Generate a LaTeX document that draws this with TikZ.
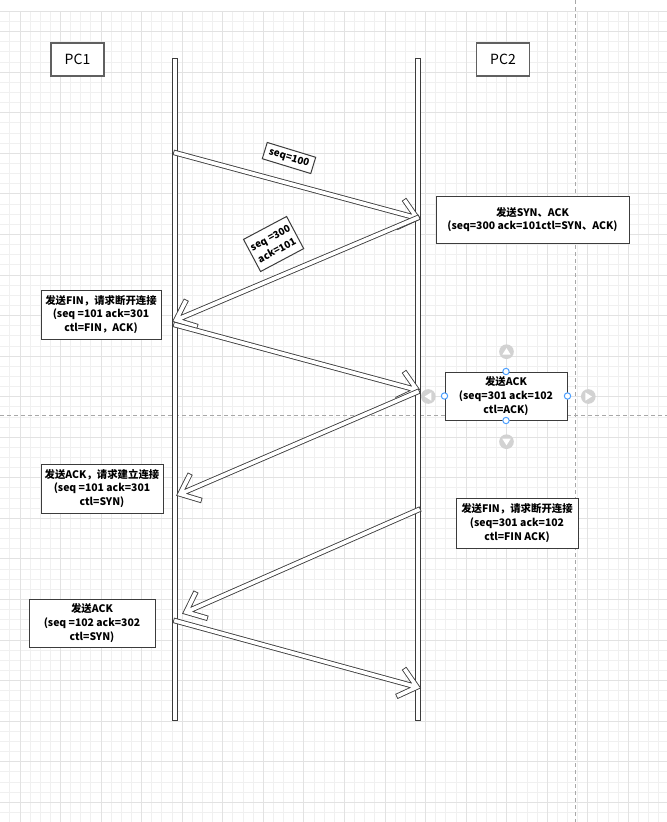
\documentclass[tikz,border=0pt]{standalone}
\usepackage{fontspec}
\setmainfont{Noto Sans CJK SC}
\usetikzlibrary{calc,positioning}
\definecolor{gridminor}{HTML}{F0F0F0}
\definecolor{gridmajor}{HTML}{E2E2E2}
\definecolor{edge}{HTML}{3C3C3C}
\definecolor{pcedge}{HTML}{606060}
\definecolor{breakline}{HTML}{A8A8A8}
\definecolor{handleblue}{HTML}{4DA0FF}
\definecolor{nudgegray}{HTML}{D2D2D2}

\begin{document}
\begin{tikzpicture}[x=0.75pt,y=-0.75pt]
		\tikzstyle{Minor}	= [line width=0.75pt, draw=gridminor]
		\tikzstyle{Major}	= [line width=0.75pt, draw=gridmajor]
		\tikzstyle{PageBreak}	= [line width=0.75pt, draw=breakline, dash pattern=on 3pt off 2.25pt]
		\tikzstyle{Lifeline}	= [line width=0.75pt, draw=edge, fill=white]
		\tikzstyle{PCBox}	= [draw=pcedge, line width=0.9pt, fill=white, minimum width=39.75pt, minimum height=24.75pt, inner sep=0pt, font=\fontsize{10.5pt}{12pt}\selectfont]
		\tikzstyle{MsgBox}	= [draw=edge, line width=0.75pt, fill=white, inner sep=0pt, align=center, font=\bfseries\fontsize{7.8pt}{10.2pt}\selectfont]
		\tikzstyle{SeqTag}	= [draw=edge, line width=0.75pt, fill=white, inner sep=0pt, align=center, font=\bfseries\fontsize{7.4pt}{10.6pt}\selectfont]
		\tikzstyle{Msg}		= [draw=edge, line width=0.65pt, double=white, double distance=2.8pt, line cap=rect, line join=miter]
		\tikzstyle{Handle}	= [draw=handleblue, line width=0.75pt, fill=white]
		\tikzstyle{Nudge}	= [circle, fill=nudgegray, minimum size=11pt, inner sep=0pt]

		\useasboundingbox (0,0) rectangle (667,822);
		\fill [white] (0,0) rectangle (667,822);

		% grid of the editor page
		\foreach \i in {0,...,66}
			\draw [Minor] ({-0.28+10.14*\i},11.4) -- ({-0.28+10.14*\i},822);
		\foreach \j in {0,...,80}
			\draw [Minor] (0,{11.4+10.14*\j}) -- (667,{11.4+10.14*\j});
		\foreach \i in {0,...,16}
			\draw [Major] ({20+40.56*\i},11.4) -- ({20+40.56*\i},822);
		\foreach \j in {0,...,19}
			\draw [Major] (0,{31.7+40.56*\j}) -- (667,{31.7+40.56*\j});
		\draw [Major] (0,11.4) -- (667,11.4);
		\draw [PageBreak] (575.5,0) -- (575.5,822);
		\draw [PageBreak] (0,415.5) -- (667,415.5);

		% hosts and lifelines
		\node (pc1) at (77.5,59.5) [PCBox] {PC1};
		\node (pc2) at (503,59.5) [PCBox] {PC2};
		\draw [Lifeline] (172.5,58.5) rectangle (177.5,720);
		\draw [Lifeline] (415.5,58.5) rectangle (420.5,720);

		% message end points
		\coordinate (m1s) at (176,153);
		\coordinate (m1e) at (417,218);
		\coordinate (m2s) at (417,218);
		\coordinate (m2e) at (176,320);
		\coordinate (m3s) at (176,325);
		\coordinate (m3e) at (417,390);
		\coordinate (m4s) at (417,392);
		\coordinate (m4e) at (180,494);
		\coordinate (m5s) at (418,510);
		\coordinate (m5e) at (186,612);
		\coordinate (m6s) at (176,621);
		\coordinate (m6e) at (417,687);

		\foreach \a/\b in {m1s/m1e, m2s/m2e, m3s/m3e, m4s/m4e, m5s/m5e, m6s/m6e}
			\draw [Msg] ($(\b)!2pt!(\a)$) -- (\a)
				($(\b)!15pt!40:(\a)$) -- (\b) -- ($(\b)!15pt!-40:(\a)$);

		% tags on the first two messages
		\node (t1) at (289,158) [SeqTag, rotate=-17, minimum width=38pt, minimum height=12.75pt] {seq=100};
		\node (t2) at (273.6,244) [SeqTag, rotate=28, minimum width=36.6pt, minimum height=27.3pt] {seq =300\\ack=101};

		% notes
		\node (b1) at (532.5,219.7) [MsgBox, minimum width=144.75pt, minimum height=35.25pt] {发送SYN、ACK\\(seq=300 ack=101ctl=SYN、ACK)};
		\node (b2) at (101,314.5) [MsgBox, minimum width=90pt, minimum height=36.75pt] {发送FIN，请求断开连接\\(seq =101 ack=301\\ctl=FIN，ACK)};
		\node (b3) at (506,396) [MsgBox, minimum width=91.5pt, minimum height=36pt] {发送ACK\\(seq=301 ack=102\\ctl=ACK)};
		\node (b4) at (102,488.5) [MsgBox, minimum width=91.5pt, minimum height=36.75pt] {发送ACK，请求建立连接\\(seq =101 ack=301\\ctl=SYN)};
		\node (b5) at (517,523) [MsgBox, minimum width=91.5pt, minimum height=37.5pt] {发送FIN，请求断开连接\\(seq=301 ack=102\\ctl=FIN ACK)};
		\node (b6) at (92,623) [MsgBox, minimum width=94.5pt, minimum height=36pt] {发送ACK\\(seq =102 ack=302\\ctl=SYN)};

		% selection handles on the chosen note
		\foreach \p in {b3.north, b3.south, b3.east, b3.west}
			\draw [Handle] (\p) circle (2.4pt);
		\node (nu) at (506.5,351.7) [Nudge] {};
		\node (nd) at (506.5,441.7) [Nudge] {};
		\node (nl) at (428.3,396.5) [Nudge] {};
		\node (nr) at (588.3,396.5) [Nudge] {};
		\fill [white] (nu) ++(0,-3.6) -- ++(4.2,6.6) -- ++(-8.4,0) -- cycle;
		\fill [white] (nd) ++(0,3.6) -- ++(4.2,-6.6) -- ++(-8.4,0) -- cycle;
		\fill [white] (nl) ++(-3.6,0) -- ++(6.6,4.2) -- ++(0,-8.4) -- cycle;
		\fill [white] (nr) ++(3.6,0) -- ++(-6.6,4.2) -- ++(0,-8.4) -- cycle;
	\end{tikzpicture}
\end{document}
